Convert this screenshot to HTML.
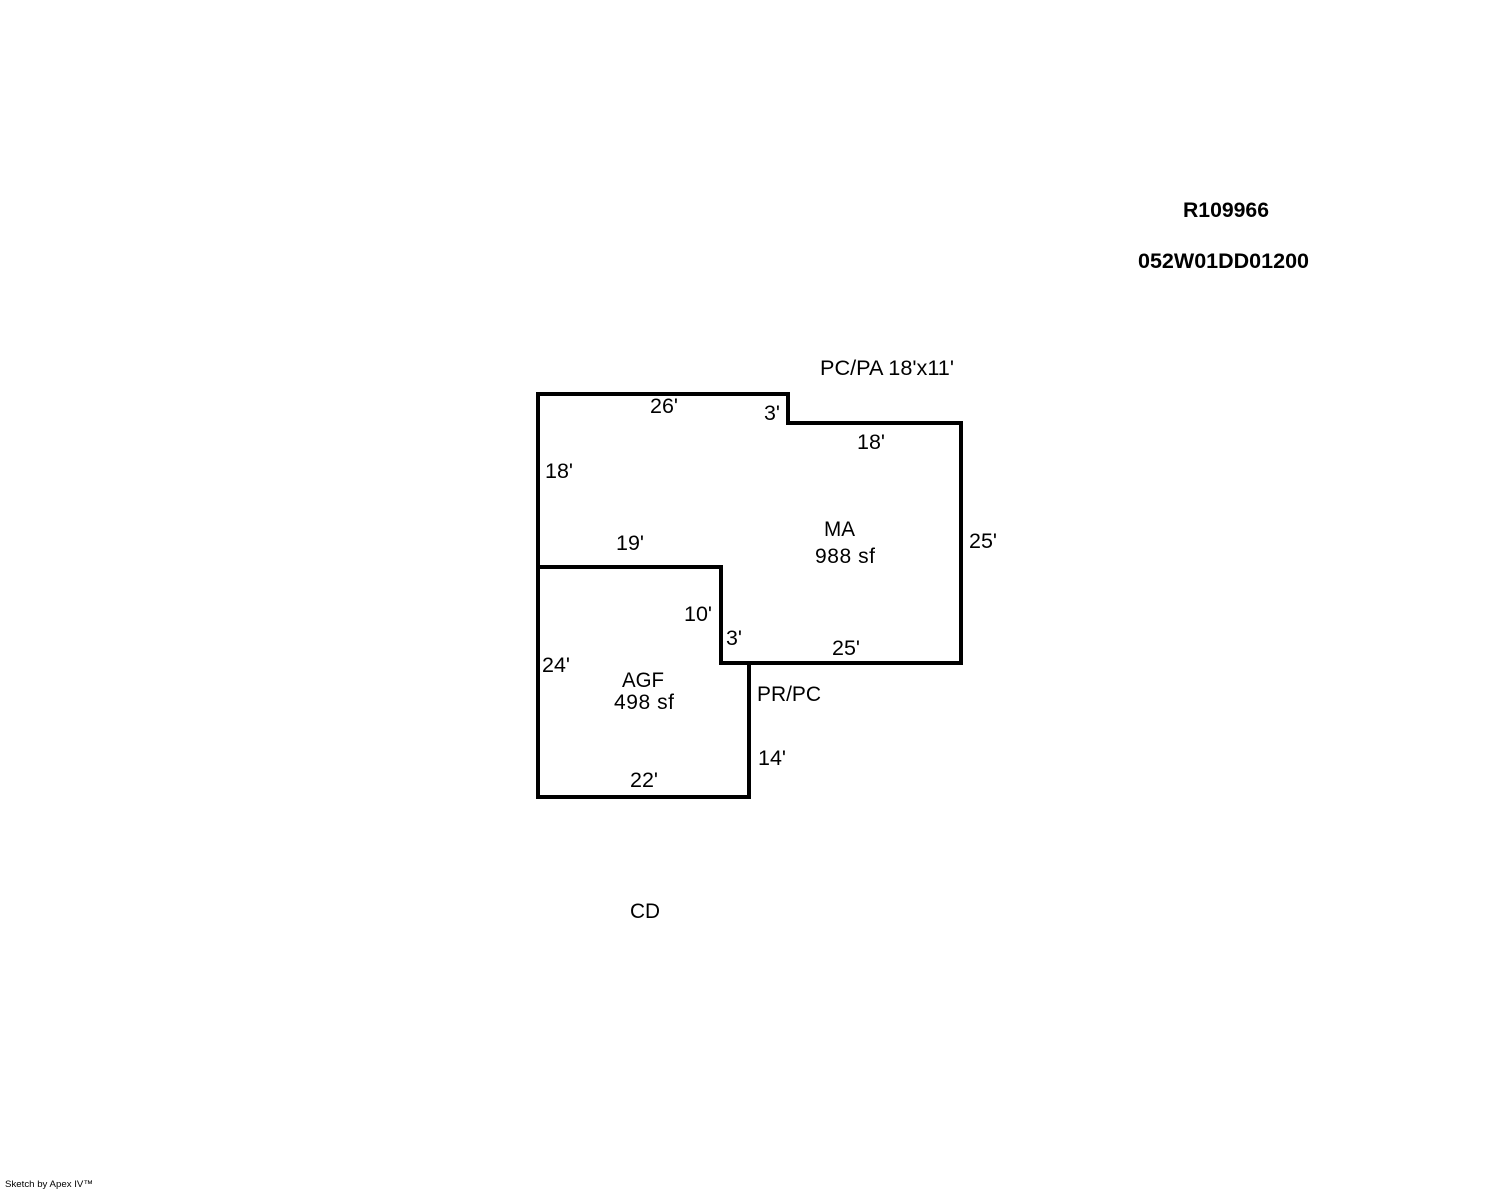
<!DOCTYPE html>
<html>
<head>
<meta charset="utf-8">
<title>Sketch</title>
<style>
html,body{margin:0;padding:0;background:#fff;width:1488px;height:1190px;overflow:hidden}
svg{display:block}
text{font-family:"Liberation Sans",Arial,sans-serif;font-size:21px;fill:#000}
.b{font-weight:bold}
.s{font-size:9.6px}
</style>
</head>
<body>
<svg width="1488" height="1190" viewBox="0 0 1488 1190" xmlns="http://www.w3.org/2000/svg">
<rect width="1488" height="1190" fill="#fff"/>
<g fill="none" stroke="#000" stroke-width="4" stroke-linejoin="miter" stroke-linecap="square">
<path d="M538 394H788V423H961V663H721V567H538Z"/>
<path d="M538 567V797H749V663"/>
</g>
<g lengthAdjust="spacingAndGlyphs">
<text class="b" x="1183" y="217" textLength="86" lengthAdjust="spacingAndGlyphs">R109966</text>
<text class="b" x="1138" y="268" textLength="171" lengthAdjust="spacingAndGlyphs">052W01DD01200</text>
<text x="820" y="375" textLength="134" lengthAdjust="spacingAndGlyphs">PC/PA 18'x11'</text>
<text x="650" y="413" textLength="28" lengthAdjust="spacingAndGlyphs">26'</text>
<text x="764" y="420" textLength="16" lengthAdjust="spacingAndGlyphs">3'</text>
<text x="857" y="449" textLength="28" lengthAdjust="spacingAndGlyphs">18'</text>
<text x="545" y="478" textLength="28" lengthAdjust="spacingAndGlyphs">18'</text>
<text x="824" y="536" textLength="31" lengthAdjust="spacingAndGlyphs">MA</text>
<text x="616" y="550" textLength="28" lengthAdjust="spacingAndGlyphs">19'</text>
<text x="969" y="548" textLength="28" lengthAdjust="spacingAndGlyphs">25'</text>
<text x="815" y="563" textLength="60" lengthAdjust="spacing">988 sf</text>
<text x="684" y="621" textLength="28" lengthAdjust="spacingAndGlyphs">10'</text>
<text x="726" y="645" textLength="16" lengthAdjust="spacingAndGlyphs">3'</text>
<text x="832" y="655" textLength="28" lengthAdjust="spacingAndGlyphs">25'</text>
<text x="542" y="672" textLength="28" lengthAdjust="spacingAndGlyphs">24'</text>
<text x="622" y="687" textLength="42" lengthAdjust="spacingAndGlyphs">AGF</text>
<text x="757" y="701" textLength="64" lengthAdjust="spacingAndGlyphs">PR/PC</text>
<text x="614" y="709" textLength="60" lengthAdjust="spacing">498 sf</text>
<text x="758" y="765" textLength="28" lengthAdjust="spacingAndGlyphs">14'</text>
<text x="630" y="787" textLength="28" lengthAdjust="spacingAndGlyphs">22'</text>
<text x="630" y="918" textLength="30" lengthAdjust="spacingAndGlyphs">CD</text>
<text class="s" x="5" y="1187" textLength="88" lengthAdjust="spacingAndGlyphs">Sketch by Apex IV™</text>
</g>
</svg>
</body>
</html>
